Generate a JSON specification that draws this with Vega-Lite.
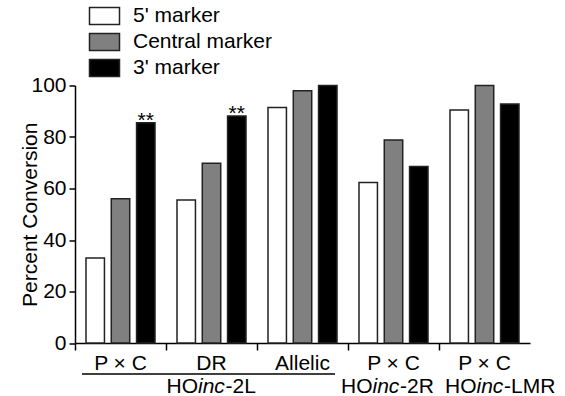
{
  "$schema": "https://vega.github.io/schema/vega-lite/v6.json",
  "width": 455,
  "height": 257.5,
  "autosize": "none",
  "padding": {"left": 75, "top": 85.5, "right": 35, "bottom": 53},
  "background": "white",
  "config": {
    "view": {"stroke": null},
    "font": "Liberation Sans",
    "axis": {"domainColor": "black", "tickColor": "black", "labelColor": "black", "titleColor": "black", "domainWidth": 1.5, "tickWidth": 1.5, "labelFontSize": 21, "titleFontSize": 21, "titleFontWeight": "normal", "grid": false, "labelFont": "Liberation Sans", "titleFont": "Liberation Sans"}
  },
  "datasets": {
    "bars": [
      {"group": "P × C|2L", "marker": "5' marker", "value": 33},
      {"group": "P × C|2L", "marker": "Central marker", "value": 56},
      {"group": "P × C|2L", "marker": "3' marker", "value": 85.5},
      {"group": "DR|2L", "marker": "5' marker", "value": 55.5},
      {"group": "DR|2L", "marker": "Central marker", "value": 69.8},
      {"group": "DR|2L", "marker": "3' marker", "value": 88.2},
      {"group": "Allelic|2L", "marker": "5' marker", "value": 91.5},
      {"group": "Allelic|2L", "marker": "Central marker", "value": 98},
      {"group": "Allelic|2L", "marker": "3' marker", "value": 100},
      {"group": "P × C|2R", "marker": "5' marker", "value": 62.3},
      {"group": "P × C|2R", "marker": "Central marker", "value": 78.8},
      {"group": "P × C|2R", "marker": "3' marker", "value": 68.5},
      {"group": "P × C|LMR", "marker": "5' marker", "value": 90.5},
      {"group": "P × C|LMR", "marker": "Central marker", "value": 100},
      {"group": "P × C|LMR", "marker": "3' marker", "value": 92.8}
    ],
    "stars": [
      {"group": "P × C|2L", "marker": "3' marker", "value": 85.5, "label": "**"},
      {"group": "DR|2L", "marker": "3' marker", "value": 88.2, "label": "**"}
    ],
    "sublabels": [
      {"group": "DR|2L", "pre": "HO", "mid": "inc", "suf": "-2L"},
      {"group": "P × C|2R", "pre": "HO", "mid": "inc", "suf": "-2R"},
      {"group": "P × C|LMR", "pre": "HO", "mid": "inc", "suf": "-LMR"}
    ],
    "brackets": [
      {"start": "P × C|2L", "end": "Allelic|2L"}
    ]
  },
  "layer": [
    {
      "data": {"name": "bars"},
      "mark": {"type": "bar", "stroke": "#222", "strokeWidth": 1.5},
      "encoding": {
        "x": {
          "field": "group", "type": "nominal",
          "scale": {"domain": ["P × C|2L", "DR|2L", "Allelic|2L", "P × C|2R", "P × C|LMR"], "paddingInner": 0, "paddingOuter": 0},
          "axis": {"title": null, "labelExpr": "split(datum.label, '|')[0]", "labelAngle": 0, "bandPosition": 0, "tickSize": 7, "labelPadding": 2}
        },
        "xOffset": {
          "field": "marker", "type": "nominal",
          "scale": {"domain": ["5' marker", "Central marker", "3' marker"], "paddingInner": 0.27, "paddingOuter": 0.435}
        },
        "y": {
          "field": "value", "type": "quantitative",
          "scale": {"domain": [0, 100], "nice": false},
          "axis": {"title": "Percent Conversion", "values": [0, 20, 40, 60, 80, 100], "tickSize": 6, "labelPadding": 3, "titlePadding": -10}
        },
        "color": {
          "field": "marker", "type": "nominal",
          "scale": {"domain": ["5' marker", "Central marker", "3' marker"], "range": ["#ffffff", "#808080", "#000000"]},
          "legend": {
            "title": null, "orient": "none", "legendX": 19, "legendY": -80,
            "symbolType": "M-1.765,-1H1.765V1H-1.765Z", "symbolSize": 289,
            "symbolStrokeColor": "#222", "symbolStrokeWidth": 1.5, "symbolOpacity": 1,
            "labelFontSize": 21, "labelColor": "black", "labelOffset": 18, "rowPadding": 3, "padding": 0
          }
        }
      }
    },
    {
      "data": {"name": "stars"},
      "mark": {"type": "text", "fontSize": 21, "baseline": "alphabetic", "dy": 4, "color": "black"},
      "encoding": {
        "x": {"field": "group", "type": "nominal"},
        "xOffset": {"field": "marker", "type": "nominal"},
        "y": {"field": "value", "type": "quantitative"},
        "text": {"field": "label"}
      }
    },
    {
      "data": {"name": "brackets"},
      "mark": {"type": "rule", "color": "black", "strokeWidth": 1.5, "xOffset": -38.5, "x2Offset": 32.5, "yOffset": 31},
      "encoding": {
        "x": {"field": "start", "type": "nominal"},
        "x2": {"field": "end"},
        "y": {"datum": 0}
      }
    },
    {
      "data": {"name": "sublabels"},
      "transform": [{"filter": "datum.suf === '-2L'"}],
      "layer": [
        {"mark": {"type": "text", "fontSize": 21, "baseline": "alphabetic", "align": "right", "dx": -13.5, "dy": 50, "color": "black"},
         "encoding": {"x": {"field": "group", "type": "nominal"}, "y": {"datum": 0}, "text": {"field": "pre"}}},
        {"mark": {"type": "text", "fontSize": 21, "fontStyle": "italic", "baseline": "alphabetic", "align": "left", "dx": -13.5, "dy": 50, "color": "black"},
         "encoding": {"x": {"field": "group", "type": "nominal"}, "y": {"datum": 0}, "text": {"field": "mid"}}},
        {"mark": {"type": "text", "fontSize": 21, "baseline": "alphabetic", "align": "left", "dx": 14, "dy": 50, "color": "black"},
         "encoding": {"x": {"field": "group", "type": "nominal"}, "y": {"datum": 0}, "text": {"field": "suf"}}}
      ]
    },
    {
      "data": {"name": "sublabels"},
      "transform": [{"filter": "datum.suf === '-2R'"}],
      "layer": [
        {"mark": {"type": "text", "fontSize": 21, "baseline": "alphabetic", "align": "right", "dx": -21, "dy": 50, "color": "black"},
         "encoding": {"x": {"field": "group", "type": "nominal"}, "y": {"datum": 0}, "text": {"field": "pre"}}},
        {"mark": {"type": "text", "fontSize": 21, "fontStyle": "italic", "baseline": "alphabetic", "align": "left", "dx": -21, "dy": 50, "color": "black"},
         "encoding": {"x": {"field": "group", "type": "nominal"}, "y": {"datum": 0}, "text": {"field": "mid"}}},
        {"mark": {"type": "text", "fontSize": 21, "baseline": "alphabetic", "align": "left", "dx": 6.5, "dy": 50, "color": "black"},
         "encoding": {"x": {"field": "group", "type": "nominal"}, "y": {"datum": 0}, "text": {"field": "suf"}}}
      ]
    },
    {
      "data": {"name": "sublabels"},
      "transform": [{"filter": "datum.suf === '-LMR'"}],
      "layer": [
        {"mark": {"type": "text", "fontSize": 21, "baseline": "alphabetic", "align": "right", "dx": -8, "dy": 50, "color": "black"},
         "encoding": {"x": {"field": "group", "type": "nominal"}, "y": {"datum": 0}, "text": {"field": "pre"}}},
        {"mark": {"type": "text", "fontSize": 21, "fontStyle": "italic", "baseline": "alphabetic", "align": "left", "dx": -8, "dy": 50, "color": "black"},
         "encoding": {"x": {"field": "group", "type": "nominal"}, "y": {"datum": 0}, "text": {"field": "mid"}}},
        {"mark": {"type": "text", "fontSize": 21, "baseline": "alphabetic", "align": "left", "dx": 19.5, "dy": 50, "color": "black"},
         "encoding": {"x": {"field": "group", "type": "nominal"}, "y": {"datum": 0}, "text": {"field": "suf"}}}
      ]
    }
  ]
}
